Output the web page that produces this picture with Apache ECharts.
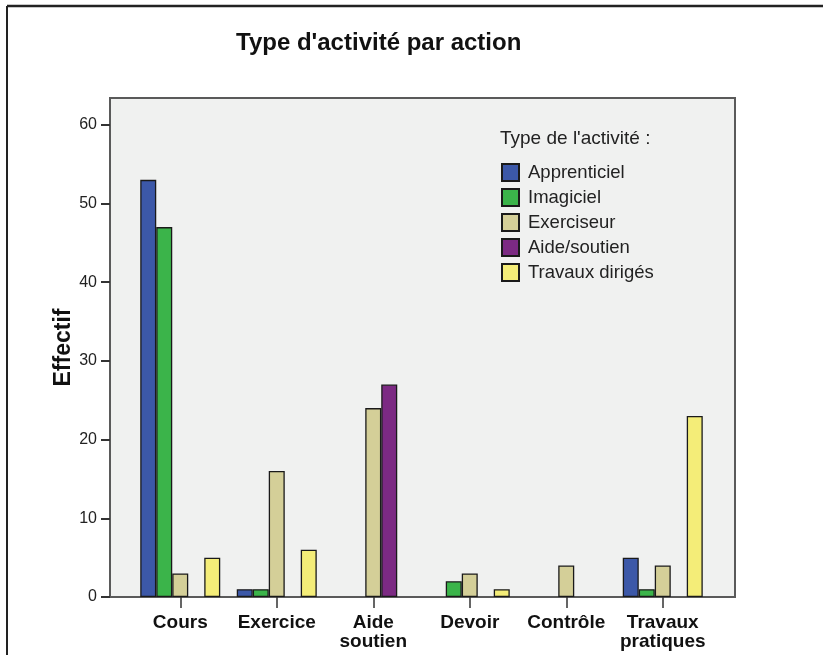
<!DOCTYPE html>
<html>
<head>
<meta charset="utf-8">
<script src="https://cdn.jsdelivr.net/npm/echarts@6/dist/echarts.min.js"></script>
<style>html,body{margin:0;padding:0;background:#fff;}#c{width:823px;height:655px;}</style>
</head>
<body>
<div id="c"></div>
<script>
var categories = ['Cours', 'Exercice', 'Aide\nsoutien', 'Devoir', 'Contrôle', 'Travaux\npratiques'];
var seriesNames = ['Apprenticiel', 'Imagiciel', 'Exerciseur', 'Aide/soutien', 'Travaux dirigés'];
var apprenticiel = [53, 1, 0, 0, 0, 5];
var imagiciel   = [47, 1, 0, 2, 0, 1];
var exerciseur  = [3, 16, 24, 3, 4, 4];
var aideSoutien = [0, 0, 27, 0, 0, 0];
var travauxDiriges = [5, 6, 0, 1, 0, 23];
var yTicks = [0, 10, 20, 30, 40, 50, 60];
var colors = ['#3c58a8', '#3bb44a', '#d4cf98', '#7c2a83', '#f4ed78'];

var values = [apprenticiel, imagiciel, exerciseur, aideSoutien, travauxDiriges];
var font = '"Liberation Sans", Arial, sans-serif';

var chart = echarts.init(document.getElementById('c'), null, {renderer: 'canvas'});
var series = values.map(function (arr, i) {
  return {
    name: seriesNames[i],
    type: 'bar',
    data: arr.map(function (v) { return v === 0 ? null : v; }),
    barWidth: 16,
    barGap: '0%',
    itemStyle: {color: colors[i], borderColor: '#1a1a1a', borderWidth: 1.3},
    emphasis: {disabled: true}
  };
});

chart.setOption({
  animation: false,
  backgroundColor: '#ffffff',
  textStyle: {fontFamily: font},
  title: [
    {text: "Type d'activité par action", left: 231, top: 26,
     textStyle: {fontFamily: font, fontSize: 24, fontWeight: 'bold', color: '#111'}},
    {text: "Type de l'activité :", left: 500, top: 129, padding: 0,
     textStyle: {fontFamily: font, fontSize: 19, fontWeight: 'normal', color: '#222'}}
  ],
  legend: {
    orient: 'vertical', left: 501, top: 163, padding: 0,
    itemWidth: 17, itemHeight: 17, itemGap: 6,
    icon: 'rect',
    selectedMode: false,
    textStyle: {fontFamily: font, fontSize: 18.5, color: '#222', lineHeight: 17, padding: [0, 0, 0, 4]},
    data: seriesNames
  },
  graphic: [
    {type: 'rect', z: -10, silent: true,
     shape: {x: 110, y: 98, width: 625, height: 499},
     style: {fill: '#f0f1f0', stroke: '#5a5a5a', lineWidth: 2}},
    {type: 'line', silent: true, shape: {x1: 7, y1: 6, x2: 823, y2: 6},
     style: {stroke: '#222', lineWidth: 2.5}},
    {type: 'line', silent: true, shape: {x1: 7, y1: 6, x2: 7, y2: 655},
     style: {stroke: '#222', lineWidth: 2}}
  ],
  grid: {left: 132, right: 112, top: 98, bottom: 58, containLabel: false},
  xAxis: {
    type: 'category',
    data: categories,
    axisLine: {show: false},
    axisTick: {show: true, alignWithLabel: true, length: 11, lineStyle: {color: '#333', width: 1.5}},
    axisLabel: {margin: 16, fontFamily: font, fontSize: 19, fontWeight: 'bold', color: '#111', lineHeight: 19, interval: 0},
    splitLine: {show: false}
  },
  yAxis: {
    type: 'value',
    min: 0, max: 63.4, interval: 10,
    offset: 22,
    name: 'Effectif',
    nameLocation: 'middle',
    nameRotate: 90,
    nameGap: 35,
    nameMoveOverlap: false,
    nameTextStyle: {fontFamily: font, fontSize: 23, fontWeight: 'bold', color: '#111'},
    axisLine: {show: false},
    axisTick: {show: true, length: 9, customValues: yTicks, lineStyle: {color: '#333', width: 2}},
    axisLabel: {margin: 13, fontFamily: font, fontSize: 16, color: '#222', customValues: yTicks,
      formatter: function (v) { return yTicks.indexOf(v) >= 0 ? String(v) : ''; }},
    splitLine: {show: false}
  },
  series: series
});
</script>
</body>
</html>
